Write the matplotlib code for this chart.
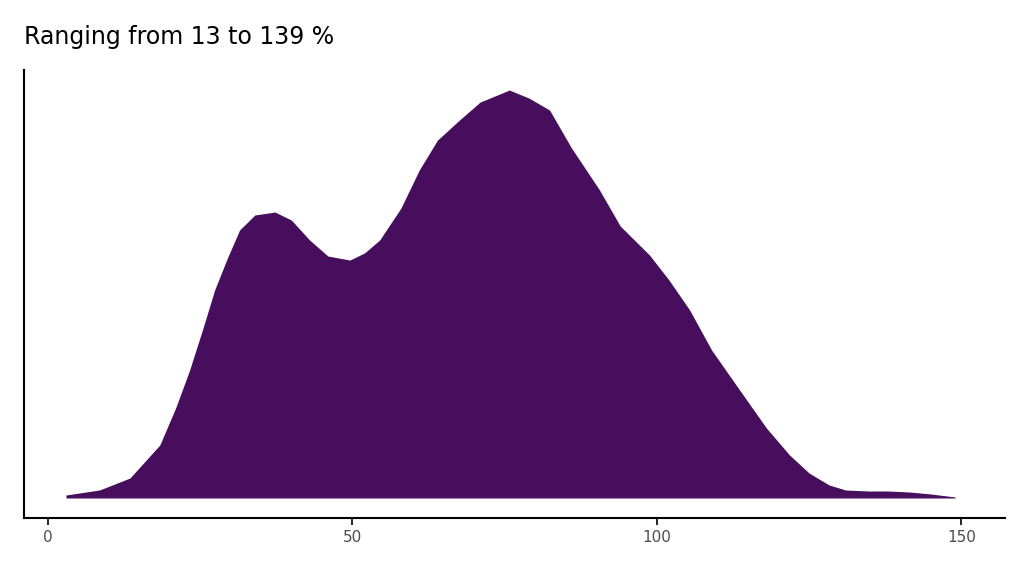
import matplotlib
matplotlib.use("Agg")
import matplotlib.pyplot as plt

x_vals = [3, 8.5, 13.5, 18.4, 21, 23.3, 25.5, 27.4, 29.5, 31.5, 34, 37.3, 40, 43, 46, 49.6, 52, 54.5, 58, 61, 64, 67.6, 71, 75.8, 79, 82.4, 86, 90.6, 94, 98.8, 102, 105.4, 109, 113.6, 118, 121.8, 125, 128.3, 131, 134.8, 138, 141.5, 145, 149]
dens = [3, 8, 20, 53, 90, 128, 170, 208, 240, 268, 283, 286, 278, 258, 242, 238, 245, 258, 290, 328, 358, 378, 396, 408, 400, 388, 350, 308, 272, 243, 218, 188, 148, 108, 70, 43, 25, 13, 8, 7, 7, 6, 4, 1]

fig = plt.figure(figsize=(10.24, 5.76), dpi=100)
ax = fig.add_axes([0.0234, 0.1007, 0.9576, 0.7777])
ax.fill_between(x_vals, 0, dens, color="#470E5D", linewidth=0)
ax.set_xlim(-3.9, 157.1)
ax.set_ylim(-20, 428)
ax.set_xticks([0, 50, 100, 150])
ax.set_yticks([])
for s in ["top", "right"]:
    ax.spines[s].set_visible(False)
for s in ["left", "bottom"]:
    ax.spines[s].set_linewidth(1.5)
ax.tick_params(axis="x", labelsize=11, colors="#4d4d4d", width=1.2, length=5)
ax.tick_params(axis="x", colors="black", labelcolor="#4d4d4d")
fig.text(0.0234, 0.915, "Ranging from 13 to 139 %", fontsize=17, va="bottom", ha="left")
fig.savefig("out.png", dpi=100)
